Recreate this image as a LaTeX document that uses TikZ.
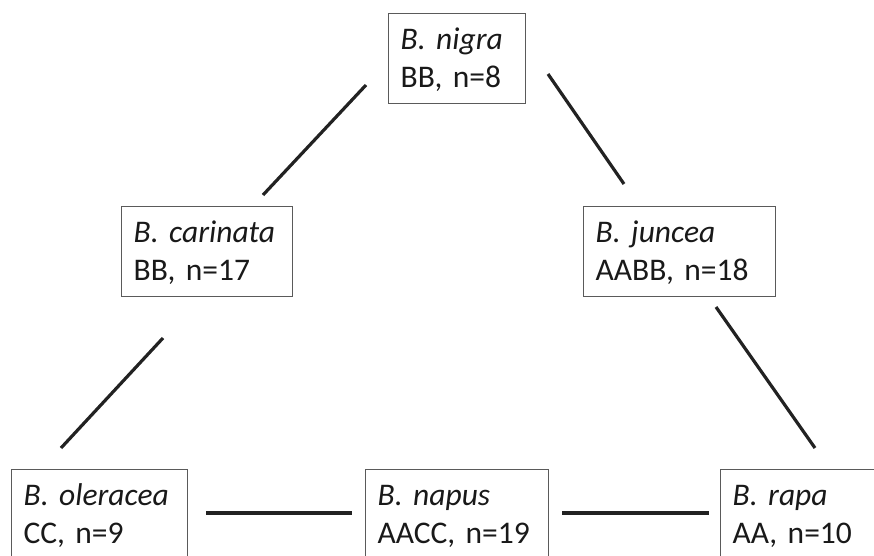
\documentclass[tikz,border=0pt]{standalone}
\usepackage{fontspec}
\setmainfont{Carlito}
\definecolor{linecol}{HTML}{222222}
\definecolor{boxcol}{HTML}{5A5A5A}
\newcommand{\spname}[2]{\rule{0pt}{36pt}\textit{#1}\\\rule[-16pt]{0pt}{16pt}#2}
\tikzset{
  sbox/.style={draw=boxcol, line width=1.3pt, fill=white, anchor=north west,
    inner xsep=12pt, inner ysep=0pt, align=left, text=black!90,
    font=\fontsize{31.5}{38}\selectfont},
  link/.style={draw=linecol, line width=3.2pt}
}
\begin{document}
\begin{tikzpicture}[x=1pt,y=-1pt]
\useasboundingbox (0,0) rectangle (874,555);
\node[sbox, text width=113pt] (nigra)    at (388,13)  {\spname{B. nigra}{BB, n=8}};
\node[sbox, text width=147pt] (carinata) at (121,206) {\spname{B. carinata}{BB, n=17}};
\node[sbox, text width=168pt] (juncea)   at (583,206) {\spname{B. juncea}{AABB, n=18}};
\node[sbox, text width=152pt] (oleracea) at (11,469)  {\spname{B. oleracea}{CC, n=9}};
\node[sbox, text width=159pt] (napus)    at (365,469) {\spname{B. napus}{AACC, n=19}};
\node[sbox, text width=152pt] (rapa)     at (720,469) {\spname{B. rapa}{AA, n=10}};
\coordinate (nc1) at (366,85);  \coordinate (nc2) at (263,195);
\coordinate (nj1) at (548,74);  \coordinate (nj2) at (624,184);
\coordinate (co1) at (163,338); \coordinate (co2) at (61,448);
\coordinate (jr1) at (716,307); \coordinate (jr2) at (815,448);
\coordinate (on1) at (206,513); \coordinate (on2) at (352,513);
\coordinate (nr1) at (562,513); \coordinate (nr2) at (709,513);
\draw[link] (nc1) -- (nc2);
\draw[link] (nj1) -- (nj2);
\draw[link] (co1) -- (co2);
\draw[link] (jr1) -- (jr2);
\draw[link] (on1) -- (on2);
\draw[link] (nr1) -- (nr2);
\end{tikzpicture}
\end{document}
